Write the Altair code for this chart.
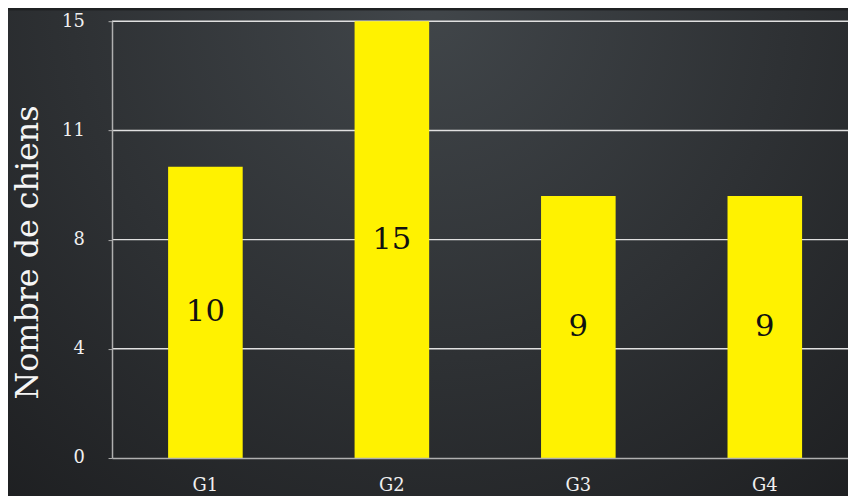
import altair as alt
import pandas as pd

categories = ["G1", "G2", "G3", "G4"]
values = [10, 15, 9, 9]
y_ticks = [0, 3.75, 7.5, 11.25, 15]

df = pd.DataFrame({"group": categories, "value": values})
grid_df = pd.DataFrame({"tick": y_ticks[1:]})

FONT = "DejaVu Serif"
W, H = 743, 441

bg = alt.Chart(alt.Data(values=[{}])).mark_rect(
    fill=alt.Gradient(
        gradient="radial",
        x1=0.5, y1=0.2, x2=0.5, y2=0.2, r1=0, r2=0.85,
        stops=[alt.GradientStop(offset=0, color="#41464a"),
               alt.GradientStop(offset=1, color="#1b1c1e")],
    )
).encode(
    x=alt.value(-105), x2=alt.value(W), y=alt.value(-11), y2=alt.value(H + 40)
)

yscale = alt.Scale(domain=[0, 15], nice=False)
xscale = alt.Scale(paddingInner=0.6, paddingOuter=0.2735, align=0.55)

grid = alt.Chart(grid_df).mark_rule(color="#e0e0e0", strokeWidth=1.5).encode(
    y=alt.Y("tick:Q", scale=yscale),
)

base = alt.Chart(df)

bars = base.mark_bar(color="#fff200").encode(
    x=alt.X("group:N", scale=xscale, sort=categories,
            axis=alt.Axis(title=None, labelAngle=0, labelFont=FONT, labelFontSize=18,
                          labelColor="#f0f0f0", labelPadding=19,
                          ticks=False, domainColor="#b0b0b0", domainWidth=1.5,
                          grid=False, zindex=1)),
    y=alt.Y("value:Q", scale=yscale,
            axis=alt.Axis(values=y_ticks, format=".0f", title="Nombre de chiens",
                          titleFont=FONT, titleFontSize=32, titleFontWeight="normal",
                          titleColor="#f5f5f5", titleX=-85, titleY=233, titleAngle=270,
                          titleBaseline="middle", titleAlign="center",
                          labelFont=FONT, labelFontSize=18, labelColor="#f0f0f0",
                          labelPadding=24, tickSize=4, tickColor="#b0b0b0",
                          domainColor="#b0b0b0", domainWidth=1.5,
                          grid=False, zindex=1)),
)

labels = base.transform_calculate(mid="datum.value / 2").mark_text(
    font=FONT, fontSize=31, color="#111111", baseline="middle", align="center"
).encode(
    x=alt.X("group:N", scale=xscale, sort=categories),
    y=alt.Y("mid:Q", scale=yscale),
    text=alt.Text("value:Q"),
)

chart = alt.layer(bg, grid, bars, labels).properties(
    width=W, height=H,
    padding={"left": 105, "top": 11, "right": 0, "bottom": 36},
    autosize=alt.AutoSizeParams(type="none"),
    background="#1f2123",
).configure_view(stroke=None)

chart.save("out.html", embed_options={"renderer": "svg", "actions": False})
